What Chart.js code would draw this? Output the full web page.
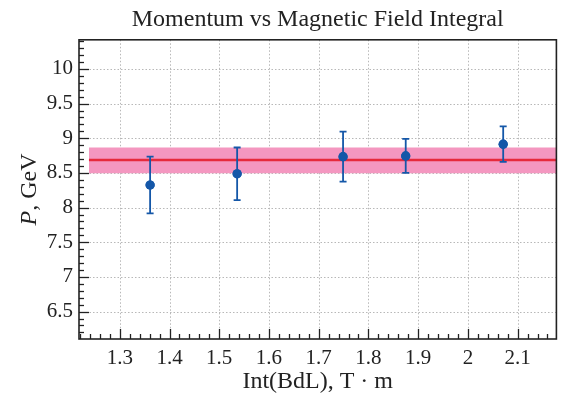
<!DOCTYPE html>
<html><head><meta charset="utf-8">
<script src="https://cdn.jsdelivr.net/npm/chart.js@4.4.1/dist/chart.umd.min.js"></script>
<style>html,body{margin:0;padding:0;background:#fff}</style></head>
<body><canvas id="c" width="561" height="396"></canvas>
<script>
const intBdL = [1.361, 1.536, 1.749, 1.875, 2.071];
const momentum = [8.326, 8.487, 8.735, 8.745, 8.915];
const momentumErr = [0.41, 0.38, 0.36, 0.245, 0.255];
const fitMean = 8.687;
const fitLow = 8.497;
const fitHigh = 8.868;
const bandX = [1.238, 2.3];
const xTicks = [1.3, 1.4, 1.5, 1.6, 1.7, 1.8, 1.9, 2, 2.1];
const yTicks = [6.5, 7, 7.5, 8, 8.5, 9, 9.5, 10];
const xRange = [1.218, 2.178];
const yRange = [6.105, 10.42];

const SERIF = '"Liberation Serif", "DejaVu Serif", serif';
const BLUE = '#1457a8';

const decor = {
  id: 'decor',
  beforeDatasetsDraw(chart) {
    const {ctx, chartArea: a, scales: {x, y}} = chart;
    ctx.save();
    ctx.strokeStyle = '#b8b8b8';
    ctx.lineWidth = 1;
    ctx.setLineDash([1.5, 2]);
    xTicks.forEach(v => {
      const px = Math.round(x.getPixelForValue(v)) + 0.5;
      ctx.beginPath(); ctx.moveTo(px, a.top); ctx.lineTo(px, a.bottom); ctx.stroke();
    });
    yTicks.forEach(v => {
      const py = Math.round(y.getPixelForValue(v)) + 0.5;
      ctx.beginPath(); ctx.moveTo(a.left, py); ctx.lineTo(a.right, py); ctx.stroke();
    });
    ctx.restore();
  },
  afterDatasetsDraw(chart) {
    const {ctx, chartArea: a, scales: {x, y}} = chart;
    ctx.save();
    // error bars
    ctx.strokeStyle = BLUE;
    ctx.lineWidth = 1.8;
    intBdL.forEach((xv, i) => {
      const px = x.getPixelForValue(xv);
      const top = y.getPixelForValue(momentum[i] + momentumErr[i]);
      const bot = y.getPixelForValue(momentum[i] - momentumErr[i]);
      ctx.beginPath();
      ctx.moveTo(px, top); ctx.lineTo(px, bot);
      ctx.moveTo(px - 3.5, top); ctx.lineTo(px + 3.5, top);
      ctx.moveTo(px - 3.5, bot); ctx.lineTo(px + 3.5, bot);
      ctx.stroke();
      ctx.fillStyle = BLUE;
      ctx.beginPath();
      ctx.arc(px, y.getPixelForValue(momentum[i]), 4.6, 0, Math.PI * 2);
      ctx.fill();
    });
    // ticks
    ctx.strokeStyle = '#222';
    ctx.lineWidth = 1.3;
    for (let k = Math.ceil(xRange[0] * 50); k <= Math.floor(xRange[1] * 50); k++) {
      const v = k / 50;
      const major = k % 5 === 0;
      const px = Math.round(x.getPixelForValue(v)) + 0.5;
      ctx.beginPath(); ctx.moveTo(px, a.bottom); ctx.lineTo(px, a.bottom - (major ? 10 : 5)); ctx.stroke();
    }
    for (let k = Math.ceil(yRange[0] * 10); k <= Math.floor(yRange[1] * 10); k++) {
      const v = k / 10;
      const major = k % 5 === 0;
      const py = Math.round(y.getPixelForValue(v)) + 0.5;
      ctx.beginPath(); ctx.moveTo(a.left, py); ctx.lineTo(a.left + (major ? 10 : 5), py); ctx.stroke();
    }
    // frame
    ctx.lineWidth = 1.6;
    ctx.strokeStyle = '#222';
    ctx.strokeRect(a.left, a.top, a.right - a.left, a.bottom - a.top);
    // y title with italic P
    ctx.translate(30, (a.top + a.bottom) / 2);
    ctx.rotate(-Math.PI / 2);
    ctx.fillStyle = '#222';
    ctx.textBaseline = 'middle';
    ctx.font = 'italic 24px ' + SERIF;
    const w1 = ctx.measureText('P').width;
    ctx.font = '24px ' + SERIF;
    const w2 = ctx.measureText(', GeV').width;
    const start = -(w1 + w2) / 2;
    ctx.textAlign = 'left';
    ctx.font = 'italic 24px ' + SERIF;
    ctx.fillText('P', start, 0);
    ctx.font = '24px ' + SERIF;
    ctx.fillText(', GeV', start + w1, 0);
    ctx.restore();
  }
};

new Chart(document.getElementById('c'), {
  type: 'scatter',
  data: {
    datasets: [
      {type: 'line', order: 4, data: bandX.map(v => ({x: v, y: fitLow})), borderWidth: 0, pointRadius: 0, fill: false, borderColor: 'rgba(0,0,0,0)'},
      {type: 'line', order: 3, data: bandX.map(v => ({x: v, y: fitHigh})), borderWidth: 0, pointRadius: 0, fill: '-1', borderColor: 'rgba(0,0,0,0)', backgroundColor: '#f497c0'},
      {type: 'line', order: 2, data: bandX.map(v => ({x: v, y: fitMean})), borderWidth: 2.5, pointRadius: 0, fill: false, borderColor: '#e62a3c'},
      {order: 1, data: intBdL.map((v, i) => ({x: v, y: momentum[i]})), pointRadius: 4.6, pointHoverRadius: 4.6, backgroundColor: BLUE, borderColor: BLUE, borderWidth: 0}
    ]
  },
  options: {
    responsive: false,
    animation: false,
    devicePixelRatio: 1,
    layout: {padding: {left: 0, right: 3, top: 0, bottom: 0}},
    plugins: {
      legend: {display: false},
      tooltip: {enabled: false},
      title: {
        display: true, fullSize: false,
        text: 'Momentum vs Magnetic Field Integral',
        color: '#222',
        font: {family: SERIF, size: 24, weight: 'normal'},
        padding: {top: 5, bottom: 6}
      }
    },
    scales: {
      x: {
        type: 'linear', min: xRange[0], max: xRange[1],
        afterBuildTicks: s => { s.ticks = xTicks.map(v => ({value: v})); },
        afterFit: s => { s.height = 57; },
        grid: {display: false, drawTicks: false},
        border: {display: false},
        ticks: {color: '#222', font: {family: SERIF, size: 21}, padding: 7, maxRotation: 0, autoSkip: false, callback: v => String(v)},
        title: {display: true, text: 'Int(BdL), T · m', color: '#222', font: {family: SERIF, size: 24}, padding: {top: 0, bottom: 0}}
      },
      y: {
        type: 'linear', min: yRange[0], max: yRange[1],
        afterBuildTicks: s => { s.ticks = yTicks.map(v => ({value: v})); },
        afterFit: s => { s.width = 79; },
        grid: {display: false, drawTicks: false},
        border: {display: false},
        ticks: {color: '#222', font: {family: SERIF, size: 21}, padding: 6, autoSkip: false, callback: v => String(v)}
      }
    }
  },
  plugins: [decor]
});
</script>
</body></html>
